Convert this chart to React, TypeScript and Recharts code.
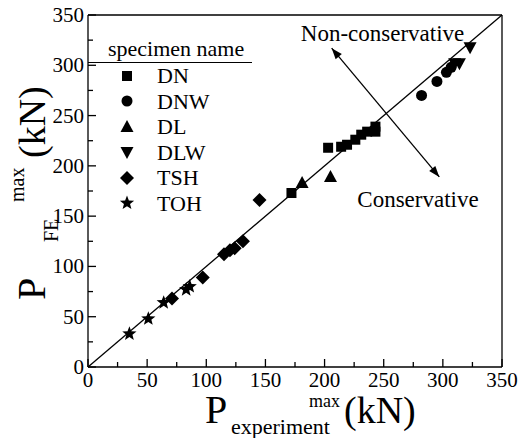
import React, { useEffect, useState } from 'react';
import {
  ScatterChart, Scatter, XAxis, YAxis, ReferenceLine, ReferenceDot,
} from 'recharts';

// ticks every 25, labels on every 50
const axisTicks = [0, 25, 50, 75, 100, 125, 150, 175, 200, 225, 250, 275, 300, 325, 350];

// specimen groups (P_experiment, P_FE)
const dnX = [172, 203, 214, 219, 226, 231, 236, 243, 243];
const dnY = [173, 218, 219, 221, 226, 231, 234, 239, 234];
const dnwX = [282, 295, 303, 307];
const dnwY = [270, 284, 293, 298];
const dlX = [181, 205];
const dlY = [183, 189];
const dlwX = [310, 314, 323];
const dlwY = [302, 302, 318];
const tshX = [71, 97, 115, 120, 124, 131, 145];
const tshY = [68, 89, 112, 116, 118, 125, 166];
const tohX = [35, 51, 64, 83, 86];
const tohY = [33, 48, 64, 77, 80];

const pairs = (xs: number[], ys: number[]) => xs.map((x, i) => ({ x, y: ys[i] }));

const FONT = "'Times New Roman', 'Liberation Serif', 'Tinos', 'DejaVu Serif', serif";
const ts = { fontFamily: FONT };

type Kind = 'square' | 'circle' | 'triangle' | 'triangleDown' | 'diamond' | 'star';

const Marker = ({ kind, cx, cy }: { kind: Kind; cx: number; cy: number }) => {
  if (cx == null || cy == null) return null;
  switch (kind) {
    case 'square':
      return <rect x={cx - 5} y={cy - 5} width={10} height={10} fill="#000" />;
    case 'circle':
      return <circle cx={cx} cy={cy} r={5.5} fill="#000" />;
    case 'triangle':
      return <polygon points={`${cx},${cy - 7} ${cx + 6.5},${cy + 5} ${cx - 6.5},${cy + 5}`} fill="#000" />;
    case 'triangleDown':
      return <polygon points={`${cx},${cy + 7} ${cx + 6.5},${cy - 5} ${cx - 6.5},${cy - 5}`} fill="#000" />;
    case 'diamond':
      return <polygon points={`${cx},${cy - 7} ${cx + 7},${cy} ${cx},${cy + 7} ${cx - 7},${cy}`} fill="#000" />;
    case 'star': {
      const pts: string[] = [];
      for (let i = 0; i < 10; i++) {
        const r = i % 2 === 0 ? 7.5 : 3.2;
        const a = -Math.PI / 2 + (i * Math.PI) / 5;
        pts.push(`${cx + r * Math.cos(a)},${cy + r * Math.sin(a)}`);
      }
      return <polygon points={pts.join(' ')} fill="#000" />;
    }
  }
  return null;
};

const series: { name: string; kind: Kind; data: { x: number; y: number }[] }[] = [
  { name: 'DN', kind: 'square', data: pairs(dnX, dnY) },
  { name: 'DNW', kind: 'circle', data: pairs(dnwX, dnwY) },
  { name: 'DL', kind: 'triangle', data: pairs(dlX, dlY) },
  { name: 'DLW', kind: 'triangleDown', data: pairs(dlwX, dlwY) },
  { name: 'TSH', kind: 'diamond', data: pairs(tshX, tshY) },
  { name: 'TOH', kind: 'star', data: pairs(tohX, tohY) },
];

const XTick = (props: any) => {
  const { x, y, payload } = props;
  const major = payload.value % 50 === 0;
  return (
    <g>
      <line x1={x} y1={y} x2={x} y2={y - (major ? 8 : 5)} stroke="#000" strokeWidth={1.3} />
      {major && (
        <text x={x} y={y + 20} textAnchor="middle" style={ts} fontSize={21} fill="#000">
          {payload.value}
        </text>
      )}
    </g>
  );
};

const YTick = (props: any) => {
  const { x, y, payload } = props;
  const major = payload.value % 50 === 0;
  return (
    <g>
      <line x1={x} y1={y} x2={x + (major ? 8 : 5)} y2={y} stroke="#000" strokeWidth={1.3} />
      {major && (
        <text x={x - 4} y={y + 7} textAnchor="end" style={ts} fontSize={21} fill="#000">
          {payload.value}
        </text>
      )}
    </g>
  );
};

// pieces placed along the title so font metrics don't move them
const XTitle = (props: any) => {
  const { viewBox } = props;
  const x0 = viewBox.x + 117;
  const y0 = viewBox.y + 56;
  return (
    <text style={ts} fill="#000">
      <tspan x={x0} y={y0} fontSize={40}>P</tspan>
      <tspan x={x0 + 26} y={y0 + 11} fontSize={22}>experiment</tspan>
      <tspan x={x0 + 104} y={y0 - 16} fontSize={18}>max</tspan>
      <tspan x={x0 + 139} y={y0} fontSize={38}>(kN)</tspan>
    </text>
  );
};

const YTitle = () => (
  <text transform="translate(45,300) rotate(-90)" style={ts} fill="#000">
    <tspan x={0} y={0} fontSize={40}>P</tspan>
    <tspan x={58} y={13} fontSize={20}>FE</tspan>
    <tspan x={98} y={-21} fontSize={20}>max</tspan>
    <tspan x={142} y={0} fontSize={38}>(kN)</tspan>
  </text>
);

const ArrowLine = (props: any) => {
  const { x1, y1, x2, y2 } = props;
  const ang = Math.atan2(y2 - y1, x2 - x1);
  const head = (px: number, py: number, a: number) => {
    const l = 11, w = 4;
    const bx = px - l * Math.cos(a), by = py - l * Math.sin(a);
    return `${px},${py} ${bx + w * Math.sin(a)},${by - w * Math.cos(a)} ${bx - w * Math.sin(a)},${by + w * Math.cos(a)}`;
  };
  return (
    <g>
      <line x1={x1} y1={y1} x2={x2} y2={y2} stroke="#000" strokeWidth={1.3} />
      <polygon points={head(x2, y2, ang)} fill="#000" />
      <polygon points={head(x1, y1, ang + Math.PI)} fill="#000" />
    </g>
  );
};

const noteLabel = (text: string) => (props: any) => {
  const { viewBox } = props;
  return (
    <text x={viewBox.x} y={viewBox.y + 8} textAnchor="middle" style={ts} fontSize={23} fill="#000">
      {text}
    </text>
  );
};

const LegendBox = () => (
  <div style={{ position: 'absolute', left: 88, top: 36, width: 164, fontFamily: FONT, fontSize: 22, lineHeight: '25.5px', color: '#000' }}>
    <div style={{ paddingLeft: 20, borderBottom: '1.3px solid #000', lineHeight: '26px' }}>specimen name</div>
    {series.map((s) => (
      <div key={s.name} style={{ display: 'flex', alignItems: 'center', height: 25.5 }}>
        <svg width={60} height={20} style={{ flex: 'none' }}>
          <Marker kind={s.kind} cx={39} cy={10} />
        </svg>
        <span style={{ marginLeft: 9 }}>{s.name}</span>
      </div>
    ))}
  </div>
);

export default function App() {
  const [, setTick] = useState(0);
  useEffect(() => {
    const f = (document as any).fonts;
    if (f && f.load) {
      f.load("20px 'Times New Roman'").then(() => setTick((t) => t + 1)).catch(() => {});
    }
  }, []);
  return (
    <div style={{ position: 'absolute', left: 0, top: 0, width: 519, height: 438, background: '#fff', fontFamily: FONT }}>
      <ScatterChart width={519} height={438} margin={{ top: 15, right: 17, bottom: 11, left: 0 }}>
        <XAxis
          type="number"
          dataKey="x"
          domain={[0, 350]}
          ticks={axisTicks}
          interval={0}
          tickSize={0}
          tickMargin={0}
          tick={<XTick />}
          tickLine={false}
          axisLine={{ stroke: '#000', strokeWidth: 1.3 }}
          height={60}
          label={{ content: <XTitle /> }}
          allowDataOverflow
        />
        <YAxis
          type="number"
          dataKey="y"
          domain={[0, 350]}
          ticks={axisTicks}
          interval={0}
          tickSize={0}
          tickMargin={0}
          tick={<YTick />}
          tickLine={false}
          axisLine={{ stroke: '#000', strokeWidth: 1.3 }}
          width={88}
          label={{ content: <YTitle /> }}
          allowDataOverflow
        />
        <ReferenceLine y={350} stroke="#000" strokeWidth={1.3} />
        <ReferenceLine x={350} stroke="#000" strokeWidth={1.3} />
        <ReferenceLine segment={[{ x: 0, y: 0 }, { x: 350, y: 350 }]} stroke="#000" strokeWidth={1.3} />
        <ReferenceLine segment={[{ x: 206, y: 317 }, { x: 297, y: 189 }]} shape={<ArrowLine />} />
        <ReferenceDot x={249} y={332} r={0} label={{ content: noteLabel('Non-conservative') }} />
        <ReferenceDot x={279} y={167} r={0} label={{ content: noteLabel('Conservative') }} />
        {series.map((s) => (
          <Scatter
            key={s.name}
            name={s.name}
            data={s.data}
            isAnimationActive={false}
            shape={(p: any) => <Marker kind={s.kind} cx={p.cx} cy={p.cy} />}
          />
        ))}
      </ScatterChart>
      <LegendBox />
    </div>
  );
}
